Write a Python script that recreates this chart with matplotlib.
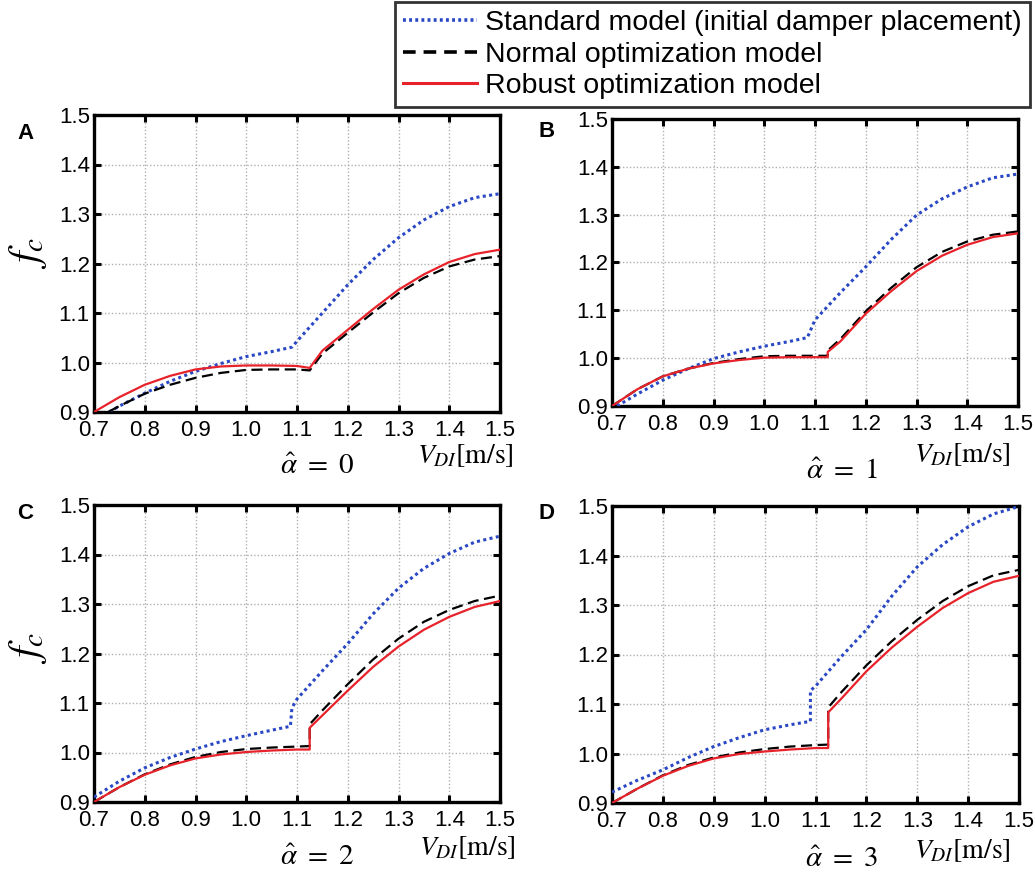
import matplotlib
matplotlib.use('Agg')
import matplotlib.pyplot as plt
from matplotlib.lines import Line2D

plt.rcParams['font.family'] = ['Liberation Sans', 'DejaVu Sans']
plt.rcParams['mathtext.fontset'] = 'stix'

#### DATA ####
# critical flutter speed ratio f_c against V_DI, one dict entry per alpha-hat
# blue = standard model, black = normal optimization, red = robust optimization
std_x = {
    0: [0.73, 0.75, 0.80, 0.85, 0.90, 0.95, 1.00, 1.05, 1.09, 1.10, 1.15, 1.20, 1.25, 1.30, 1.35, 1.40, 1.45, 1.50],
    1: [0.71, 0.75, 0.80, 0.85, 0.90, 0.95, 1.00, 1.05, 1.085, 1.10, 1.15, 1.20, 1.25, 1.30, 1.35, 1.40, 1.45, 1.50],
    2: [0.70, 0.75, 0.80, 0.85, 0.90, 0.95, 1.00, 1.05, 1.087, 1.09, 1.10, 1.15, 1.20, 1.25, 1.30, 1.35, 1.40, 1.45, 1.50],
    3: [0.70, 0.75, 0.80, 0.85, 0.90, 0.95, 1.00, 1.05, 1.09, 1.09, 1.10, 1.15, 1.20, 1.25, 1.30, 1.35, 1.40, 1.45, 1.50],
}
std_y = {
    0: [0.900, 0.912, 0.938, 0.962, 0.982, 0.998, 1.012, 1.022, 1.031, 1.043, 1.100, 1.157, 1.208, 1.252, 1.288, 1.315, 1.333, 1.341],
    1: [0.900, 0.925, 0.954, 0.978, 0.999, 1.013, 1.025, 1.035, 1.043, 1.080, 1.137, 1.191, 1.248, 1.299, 1.333, 1.358, 1.377, 1.385],
    2: [0.910, 0.942, 0.969, 0.990, 1.007, 1.022, 1.034, 1.045, 1.053, 1.090, 1.108, 1.165, 1.220, 1.280, 1.332, 1.372, 1.402, 1.425, 1.437],
    3: [0.922, 0.946, 0.967, 0.992, 1.014, 1.032, 1.048, 1.058, 1.065, 1.127, 1.136, 1.195, 1.250, 1.318, 1.377, 1.422, 1.458, 1.484, 1.499],
}

opt_x = [0.70, 0.75, 0.80, 0.85, 0.90, 0.95, 1.00, 1.05, 1.10, 1.125, 1.125, 1.15, 1.20, 1.25, 1.30, 1.35, 1.40, 1.45, 1.50]
normal_y = {
    0: [0.885, 0.912, 0.937, 0.955, 0.969, 0.979, 0.985, 0.986, 0.986, 0.984, 0.984, 1.018, 1.060, 1.101, 1.140, 1.171, 1.194, 1.208, 1.215],
    1: [0.900, 0.935, 0.962, 0.978, 0.990, 0.998, 1.004, 1.005, 1.005, 1.005, 1.016, 1.040, 1.098, 1.147, 1.190, 1.222, 1.244, 1.258, 1.265],
    2: [0.900, 0.930, 0.956, 0.976, 0.991, 1.001, 1.007, 1.010, 1.012, 1.013, 1.057, 1.085, 1.138, 1.188, 1.230, 1.264, 1.288, 1.306, 1.317],
    3: [0.900, 0.929, 0.956, 0.977, 0.992, 1.002, 1.009, 1.014, 1.017, 1.018, 1.093, 1.123, 1.178, 1.227, 1.270, 1.308, 1.338, 1.360, 1.371],
}
robust_y = {
    0: [0.900, 0.930, 0.955, 0.973, 0.986, 0.992, 0.994, 0.994, 0.993, 0.989, 0.989, 1.024, 1.066, 1.108, 1.147, 1.178, 1.203, 1.219, 1.228],
    1: [0.900, 0.935, 0.962, 0.978, 0.989, 0.996, 1.001, 1.002, 1.002, 1.002, 1.013, 1.035, 1.093, 1.140, 1.182, 1.214, 1.237, 1.253, 1.261],
    2: [0.900, 0.930, 0.955, 0.974, 0.988, 0.996, 1.001, 1.004, 1.006, 1.006, 1.050, 1.075, 1.125, 1.173, 1.214, 1.248, 1.274, 1.294, 1.306],
    3: [0.900, 0.929, 0.955, 0.975, 0.990, 0.999, 1.004, 1.008, 1.011, 1.011, 1.083, 1.110, 1.166, 1.214, 1.256, 1.294, 1.324, 1.347, 1.359],
}

series_names = ['Standard model (initial damper placement)',
                'Normal optimization model',
                'Robust optimization model']
letters = ['A', 'B', 'C', 'D']
xticks = [0.7, 0.8, 0.9, 1.0, 1.1, 1.2, 1.3, 1.4, 1.5]
yticks = [0.9, 1.0, 1.1, 1.2, 1.3, 1.4, 1.5]

#### LAYOUT ####
W, H = 1035, 874
fig = plt.figure(figsize=(W / 100, H / 100), dpi=100)

# axes boxes in pixels: left, top, right, bottom
boxes = [(94, 115, 500, 412), (612, 119, 1018, 406),
         (94, 505, 500, 802), (612, 506, 1019, 803)]
# text spots in axes fractions: letter, alpha-hat, V_DI, f_c
letter_pos = [(-0.168, 0.937), (-0.16, 0.955), (-0.17, 0.97), (-0.16, 0.976)]
alpha_pos = [(0.549, -0.182), (0.566, -0.225), (0.549, -0.185), (0.565, -0.189)]
vdi_pos = [(0.916, -0.148), (0.862, -0.171), (0.921, -0.155), (0.86, -0.162)]
fc_pos = [(-0.163, 0.535), None, (-0.163, 0.519), None]

blue = '#2a48c4'
red = '#e8222a'

for i in range(4):
    l, t, r, b = boxes[i]
    ax = fig.add_axes([l / W, 1 - b / H, (r - l) / W, (b - t) / H])

    ax.plot(std_x[i], std_y[i], color=blue, ls=(0, (1, 1.1)), lw=2.2, zorder=3)
    ax.plot(opt_x, normal_y[i], color='black', ls=(0, (5, 2.5)), lw=1.6, zorder=4)
    ax.plot(opt_x, robust_y[i], color=red, lw=1.6, zorder=5)

    ax.set_xlim(0.7, 1.5)
    ax.set_ylim(0.9, 1.5)
    ax.set_xticks(xticks)
    ax.set_yticks(yticks)
    ax.set_xticklabels(['%.1f' % v for v in xticks])
    ax.set_yticklabels(['%.1f' % v for v in yticks])
    ax.grid(True, color='#b0b0b0', ls=(0, (1, 1.5)), lw=1.0)
    ax.tick_params(direction='in', length=5, width=2.2, labelsize=16,
                   top=True, right=True, pad=3)
    ax.tick_params(axis='x', pad=6)
    for s in ax.spines.values():
        s.set_linewidth(2.4)

    ax.text(*letter_pos[i], letters[i], transform=ax.transAxes, fontsize=16,
            fontweight='bold', ha='center', va='center')
    ax.text(*alpha_pos[i], r'$\hat{\alpha}\ =\ %d$' % i, transform=ax.transAxes,
            fontsize=21, ha='center', va='center')
    ax.text(*vdi_pos[i], r'$V_{DI}$[m/s]', transform=ax.transAxes,
            fontsize=20, ha='center', va='center', family='STIXGeneral')
    if fc_pos[i] is not None:
        ax.text(*fc_pos[i], r'$f_c$', transform=ax.transAxes, fontsize=30,
                rotation=90, ha='center', va='center')

# legend keys drawn a bit heavier than the plot lines
handles = [Line2D([], [], color=blue, ls=(0, (0.8, 0.9)), lw=2.6),
           Line2D([], [], color='black', ls=(0, (3.5, 2.2)), lw=2.6),
           Line2D([], [], color=red, lw=2.2)]
leg = fig.legend(handles, series_names, loc='upper right',
                 bbox_to_anchor=(1030 / W, 1 - 2 / H), fontsize=20.5,
                 frameon=True, fancybox=False, handlelength=2.6,
                 handletextpad=0.3, borderpad=0.28, labelspacing=0.2,
                 borderaxespad=0)
leg.get_frame().set_edgecolor('black')
leg.get_frame().set_linewidth(2)

fig.savefig('out.png', dpi=100)
